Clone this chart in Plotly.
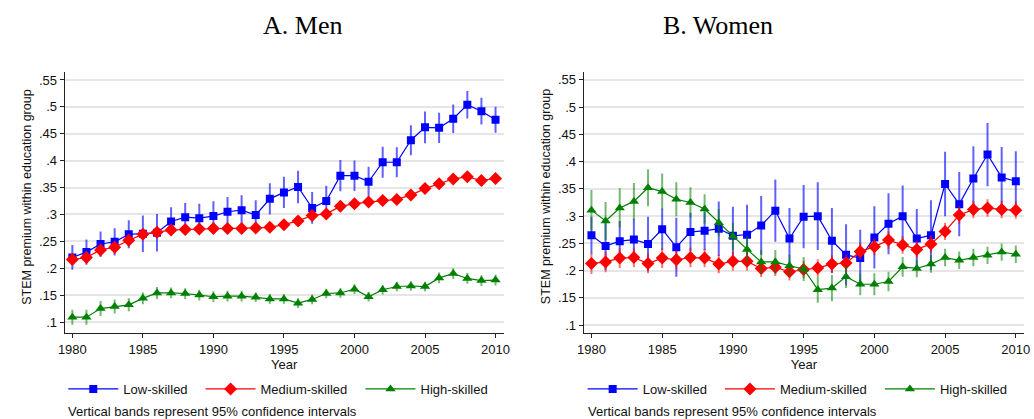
import plotly.graph_objects as go

# ---- data -------------------------------------------------------------
years = list(range(1980, 2011))

men_low = [0.220, 0.230, 0.245, 0.249, 0.263, 0.264, 0.266, 0.287, 0.295, 0.293,
           0.297, 0.305, 0.308, 0.299, 0.329, 0.341, 0.351, 0.312, 0.325, 0.372,
           0.372, 0.361, 0.397, 0.397, 0.438, 0.462, 0.461, 0.478, 0.504, 0.492, 0.476]
men_low_ci = [0.023, 0.0235, 0.0235, 0.0255, 0.026, 0.034, 0.035, 0.0265, 0.0265, 0.027,
              0.0275, 0.0275, 0.0275, 0.0275, 0.029, 0.029, 0.030, 0.0295, 0.0285, 0.029,
              0.0285, 0.0275, 0.029, 0.028, 0.028, 0.0295, 0.028, 0.0265, 0.0255, 0.025, 0.024]

men_med = [0.216, 0.220, 0.234, 0.239, 0.252, 0.263, 0.267, 0.271, 0.272, 0.273,
           0.274, 0.274, 0.274, 0.275, 0.276, 0.281, 0.288, 0.298, 0.301, 0.315,
           0.320, 0.323, 0.326, 0.328, 0.336, 0.348, 0.357, 0.366, 0.370, 0.363, 0.367]
men_med_ci = [0.010, 0.011, 0.012, 0.012, 0.012, 0.010, 0.009, 0.008, 0.007, 0.007,
              0.006, 0.006, 0.006, 0.006, 0.006, 0.006, 0.006, 0.006, 0.006, 0.006,
              0.006, 0.006, 0.005, 0.005, 0.005, 0.005, 0.005, 0.005, 0.005, 0.005, 0.005]

men_high = [0.109, 0.109, 0.125, 0.129, 0.132, 0.144, 0.154, 0.154, 0.153, 0.150,
            0.147, 0.148, 0.148, 0.146, 0.143, 0.143, 0.135, 0.142, 0.153, 0.154,
            0.161, 0.147, 0.160, 0.166, 0.167, 0.166, 0.182, 0.190, 0.181, 0.177, 0.178]
men_high_ci = [0.014, 0.014, 0.014, 0.013, 0.012, 0.011, 0.011, 0.010, 0.010, 0.010,
               0.010, 0.010, 0.010, 0.009, 0.009, 0.009, 0.009, 0.009, 0.009, 0.009,
               0.009, 0.009, 0.009, 0.009, 0.009, 0.009, 0.010, 0.010, 0.010, 0.010, 0.010]

women_low = [0.265, 0.245, 0.254, 0.257, 0.249, 0.276, 0.243, 0.271, 0.273, 0.277,
             0.264, 0.266, 0.283, 0.310, 0.259, 0.299, 0.300, 0.255, 0.229, 0.223,
             0.261, 0.286, 0.300, 0.259, 0.265, 0.359, 0.322, 0.369, 0.413, 0.371, 0.364]
women_low_ci = [0.034, 0.044, 0.037, 0.038, 0.050, 0.038, 0.054, 0.035, 0.035, 0.050,
                0.053, 0.055, 0.054, 0.057, 0.056, 0.058, 0.062, 0.060, 0.056, 0.052,
                0.057, 0.056, 0.056, 0.054, 0.064, 0.059, 0.059, 0.059, 0.058, 0.056, 0.055]

women_med = [0.213, 0.216, 0.223, 0.224, 0.213, 0.223, 0.220, 0.224, 0.223, 0.212,
             0.217, 0.217, 0.204, 0.206, 0.198, 0.202, 0.205, 0.212, 0.214, 0.235,
             0.244, 0.256, 0.247, 0.239, 0.249, 0.272, 0.302, 0.312, 0.315, 0.312, 0.311]
women_med_ci = [0.019, 0.019, 0.018, 0.018, 0.018, 0.018, 0.018, 0.018, 0.017, 0.017,
                0.017, 0.017, 0.016, 0.016, 0.016, 0.016, 0.016, 0.016, 0.016, 0.016,
                0.016, 0.016, 0.016, 0.016, 0.016, 0.016, 0.016, 0.016, 0.016, 0.016, 0.016]

women_high = [0.311, 0.291, 0.315, 0.327, 0.352, 0.345, 0.331, 0.325, 0.313, 0.288,
              0.263, 0.239, 0.216, 0.216, 0.209, 0.203, 0.165, 0.168, 0.189, 0.175,
              0.175, 0.180, 0.207, 0.204, 0.212, 0.224, 0.219, 0.224, 0.228, 0.234, 0.230]
women_high_ci = [0.037, 0.035, 0.036, 0.034, 0.034, 0.033, 0.031, 0.028, 0.027, 0.025,
                 0.025, 0.024, 0.022, 0.022, 0.020, 0.022, 0.024, 0.024, 0.021, 0.020,
                 0.020, 0.018, 0.018, 0.016, 0.016, 0.016, 0.016, 0.016, 0.016, 0.016, 0.016]

series_names = ["Low-skilled", "Medium-skilled", "High-skilled"]
panel_titles = ["A. Men", "B. Women"]
y_title = "STEM premium within education group"
y_tickvals = [0.10, 0.15, 0.20, 0.25, 0.30, 0.35, 0.40, 0.45, 0.50, 0.55]
y_ticktext = [".1", ".15", ".2", ".25", ".3", ".35", ".4", ".45", ".5", ".55"]
x_tickvals = [1980, 1985, 1990, 1995, 2000, 2005, 2010]
note_text = "Vertical bands represent 95% confidence intervals"

# ---- styling ----------------------------------------------------------
SANS = "Liberation Sans, Arial, sans-serif"
SERIF = "Liberation Serif, Times New Roman, serif"
W, H = 1034, 419
styles = [
    dict(color="#0000ff", band="rgba(0,0,255,0.62)", symbol="square", size=8),
    dict(color="#ff0000", band="rgba(255,0,0,0.55)", symbol="diamond", size=10),
    dict(color="#008000", band="rgba(0,128,0,0.55)", symbol="triangle-up", size=9),
]

# one single-entry legend per series so each key sits at its own spot
panels = [
    dict(vals=[men_low, men_med, men_high], cis=[men_low_ci, men_med_ci, men_high_ci],
         xa="x", ya="y", legends=["legend", "legend2", "legend3"],
         legend_px=[57, 196, 358], note_px=60, ytitle_px=20, title_px=257),
    dict(vals=[women_low, women_med, women_high], cis=[women_low_ci, women_med_ci, women_high_ci],
         xa="x2", ya="y2", legends=["legend4", "legend5", "legend6"],
         legend_px=[583, 722, 884], note_px=586, ytitle_px=546, title_px=778),
]

fig = go.Figure()
for p in panels:
    for name, vals, ci, st, lg in zip(series_names, p["vals"], p["cis"], styles, p["legends"]):
        fig.add_trace(go.Scatter(
            x=years, y=vals, name=name, mode="lines+markers",
            xaxis=p["xa"], yaxis=p["ya"], legend=lg,
            line=dict(color=st["color"], width=1.2),
            marker=dict(symbol=st["symbol"], size=st["size"], color=st["color"]),
            error_y=dict(type="data", array=ci, visible=True, width=0,
                         thickness=2, color=st["band"]),
        ))

axis_common = dict(
    showline=True, linecolor="#222", linewidth=1, ticks="outside", ticklen=4,
    tickcolor="#222", tickfont=dict(family=SANS, size=13, color="#111"),
    zeroline=False,
)

x_domains = [[0.0564, 0.4865], [0.5648, 0.9961]]
y_domain = [0.2045, 0.8289]
y_ranges = [[0.079, 0.5654], [0.085, 0.565]]

for i, (xd, yr) in enumerate(zip(x_domains, y_ranges)):
    sx = "" if i == 0 else "2"
    fig.update_layout(**{
        f"xaxis{sx}": dict(axis_common, domain=xd, range=[1979.45, 2010.58],
                           tickvals=x_tickvals, showgrid=False,
                           anchor=f"y{sx}",
                           title=dict(text="Year", standoff=1,
                                      font=dict(family=SANS, size=13, color="#111"))),
        f"yaxis{sx}": dict(axis_common, domain=y_domain, range=yr,
                           tickvals=y_tickvals, ticktext=y_ticktext,
                           showgrid=True, gridcolor="#e6e6e6", gridwidth=1.5,
                           anchor=f"x{sx}"),
    })

legend_layout = {}
for p in panels:
    for lg, px in zip(p["legends"], p["legend_px"]):
        legend_layout[lg] = dict(
            orientation="h", yanchor="middle", y=0.0716, xanchor="left", x=px / W,
            font=dict(family=SANS, size=13, color="#111"), bgcolor="rgba(0,0,0,0)",
            itemwidth=50,
        )
fig.update_layout(**legend_layout)

annotations = []
for p, title in zip(panels, panel_titles):
    annotations.append(dict(
        text=title, x=p["title_px"] / W, y=1 - 25 / H, xref="paper", yref="paper",
        yanchor="middle", showarrow=False, font=dict(family=SERIF, size=26, color="#000")))
    annotations.append(dict(
        text=y_title, x=p["ytitle_px"] / W, y=1 - 197 / H, xref="paper", yref="paper",
        xanchor="center", yanchor="middle", textangle=-90, showarrow=False,
        font=dict(family=SANS, size=12.5, color="#111")))
    annotations.append(dict(
        text=note_text, x=p["note_px"] / W, y=1 - 411 / H, xref="paper", yref="paper",
        xanchor="left", yanchor="middle", showarrow=False,
        font=dict(family=SANS, size=13, color="#111")))

fig.update_layout(
    width=W, height=H,
    margin=dict(l=0, r=0, t=0, b=0),
    paper_bgcolor="white", plot_bgcolor="white",
    showlegend=True, annotations=annotations,
)

fig.write_html("out.html")
